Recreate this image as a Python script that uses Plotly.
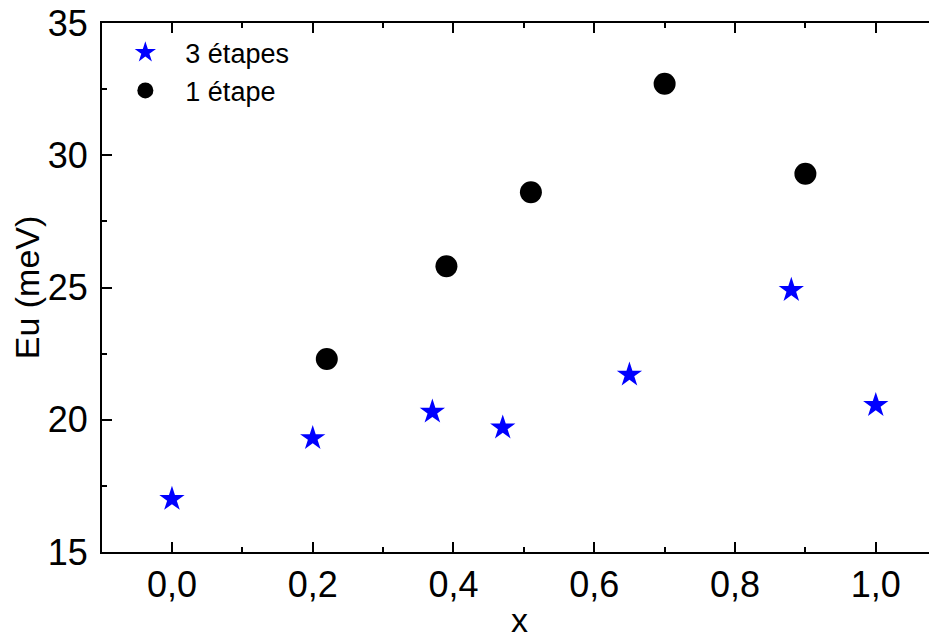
import plotly.graph_objects as go

# Data
x_3etapes = [0.0, 0.20, 0.37, 0.47, 0.65, 0.88, 1.0]
eu_3etapes = [17.0, 19.3, 20.3, 19.7, 21.7, 24.9, 20.55]
x_1etape = [0.22, 0.39, 0.51, 0.70, 0.90]
eu_1etape = [22.3, 25.8, 28.6, 32.7, 29.3]
name_3 = "3 étapes"
name_1 = "1 étape"
x_title = "x"
y_title = "Eu (meV)"

FONT = "Liberation Sans, Arial, sans-serif"

fig = go.Figure()
fig.add_trace(go.Scatter(x=x_3etapes, y=eu_3etapes, mode="markers", name=name_3,
                         marker=dict(symbol="star", size=19, color="#0000ff",
                                     line=dict(width=0))))
fig.add_trace(go.Scatter(x=x_1etape, y=eu_1etape, mode="markers", name=name_1,
                         marker=dict(symbol="circle", size=22, color="#000000",
                                     line=dict(width=0))))

fig.update_layout(
    width=929, height=632,
    margin=dict(l=94, r=0, t=15, b=88),
    paper_bgcolor="white", plot_bgcolor="white",
    separators=", ",
    font=dict(family=FONT, color="black"),
    showlegend=True,
    legend=dict(x=0.004, y=0.99, xanchor="left", yanchor="top",
                bgcolor="rgba(0,0,0,0)", font=dict(size=27, family=FONT),
                itemsizing="trace", itemwidth=70, tracegroupgap=0),
)
fig.update_xaxes(
    range=[-0.0994, 1.087], tickvals=[0, 0.2, 0.4, 0.6, 0.8, 1.0], tickformat=".1f",
    showgrid=False, zeroline=False, automargin=False,
    showline=True, linecolor="black", linewidth=2, mirror="ticks",
    ticks="inside", ticklen=10, tickwidth=2, tickcolor="black",
    minor=dict(ticks="inside", ticklen=5, tickwidth=2, tickcolor="black", dtick=0.1),
    tickfont=dict(size=36, family=FONT),
    ticklabelstandoff=0, ticklabeloverflow="allow",
    title=dict(text=x_title, font=dict(size=34, family=FONT), standoff=4),
)
fig.update_yaxes(
    range=[15, 35], tickvals=[15, 20, 25, 30, 35],
    showgrid=False, zeroline=False, automargin=False,
    showline=True, linecolor="black", linewidth=2, mirror=False,
    ticks="inside", ticklen=10, tickwidth=2, tickcolor="black",
    minor=dict(ticks="inside", ticklen=5, tickwidth=2, tickcolor="black", dtick=2.5),
    tickfont=dict(size=36, family=FONT),
    ticklabelstandoff=5, ticklabeloverflow="allow",
    title=dict(text=y_title, font=dict(size=34, family=FONT), standoff=8),
)

fig.write_html("out.html")
